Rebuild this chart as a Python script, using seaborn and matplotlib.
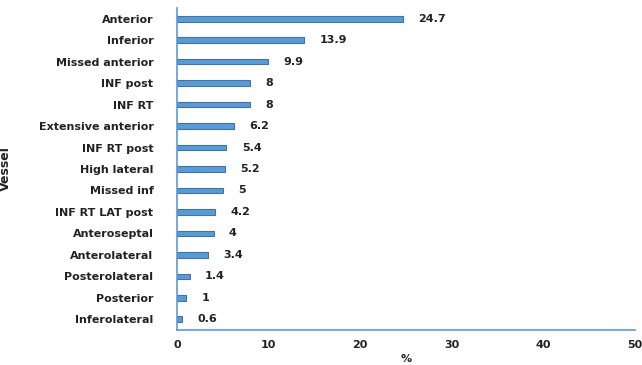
import matplotlib
matplotlib.use("Agg")
import matplotlib.pyplot as plt
import seaborn as sns
import pandas as pd

categories = ["Anterior", "Inferior", "Missed anterior", "INF post", "INF RT",
              "Extensive anterior", "INF RT post", "High lateral", "Missed inf",
              "INF RT LAT post", "Anteroseptal", "Anterolateral", "Posterolateral",
              "Posterior", "Inferolateral"]
values = [24.7, 13.9, 9.9, 8, 8, 6.2, 5.4, 5.2, 5, 4.2, 4, 3.4, 1.4, 1, 0.6]
x_ticks = [0, 10, 20, 30, 40, 50]

df = pd.DataFrame({"Vessel": categories, "pct": values})

sns.set_style("white")
plt.rcParams["font.family"] = ["DejaVu Sans"]

fig = plt.figure(figsize=(6.42, 3.65), dpi=100)
ax = fig.add_axes([177/642, 1-330/365, (635-177)/642, (330-8)/365])

sns.barplot(data=df, x="pct", y="Vessel", orient="h", color="#5b9bd5",
            width=0.26, edgecolor="#3f74a8", linewidth=0.8, ax=ax, saturation=1)

ax.set_xlim(0, 50)
ax.set_xticks(x_ticks)
ax.set_xticklabels([str(t) for t in x_ticks], fontsize=8, fontweight="bold", color="#222222")
for lab in ax.get_yticklabels():
    lab.set_fontsize(8)
    lab.set_fontweight("bold")
    lab.set_color("#222222")
ax.tick_params(axis="y", length=0, pad=17)
ax.tick_params(axis="x", length=0, pad=7)

for c in ax.containers:
    ax.bar_label(c, labels=[f"{v:g}" for v in values], padding=11,
                 fontsize=8, fontweight="bold", color="#222222")

for s in ["top", "right"]:
    ax.spines[s].set_visible(False)
for s in ["left", "bottom"]:
    ax.spines[s].set_color("#5b9bd5")
    ax.spines[s].set_linewidth(1.2)

ax.set_ylabel("Vessel", fontsize=9, fontweight="bold", color="#222222",
              family=["Liberation Sans Narrow", "DejaVu Sans"])
ax.yaxis.set_label_coords(-0.36, 0.5)
ax.set_xlabel("%", fontsize=8, fontweight="bold", color="#222222", labelpad=3)

fig.savefig("out.png", dpi=100)
